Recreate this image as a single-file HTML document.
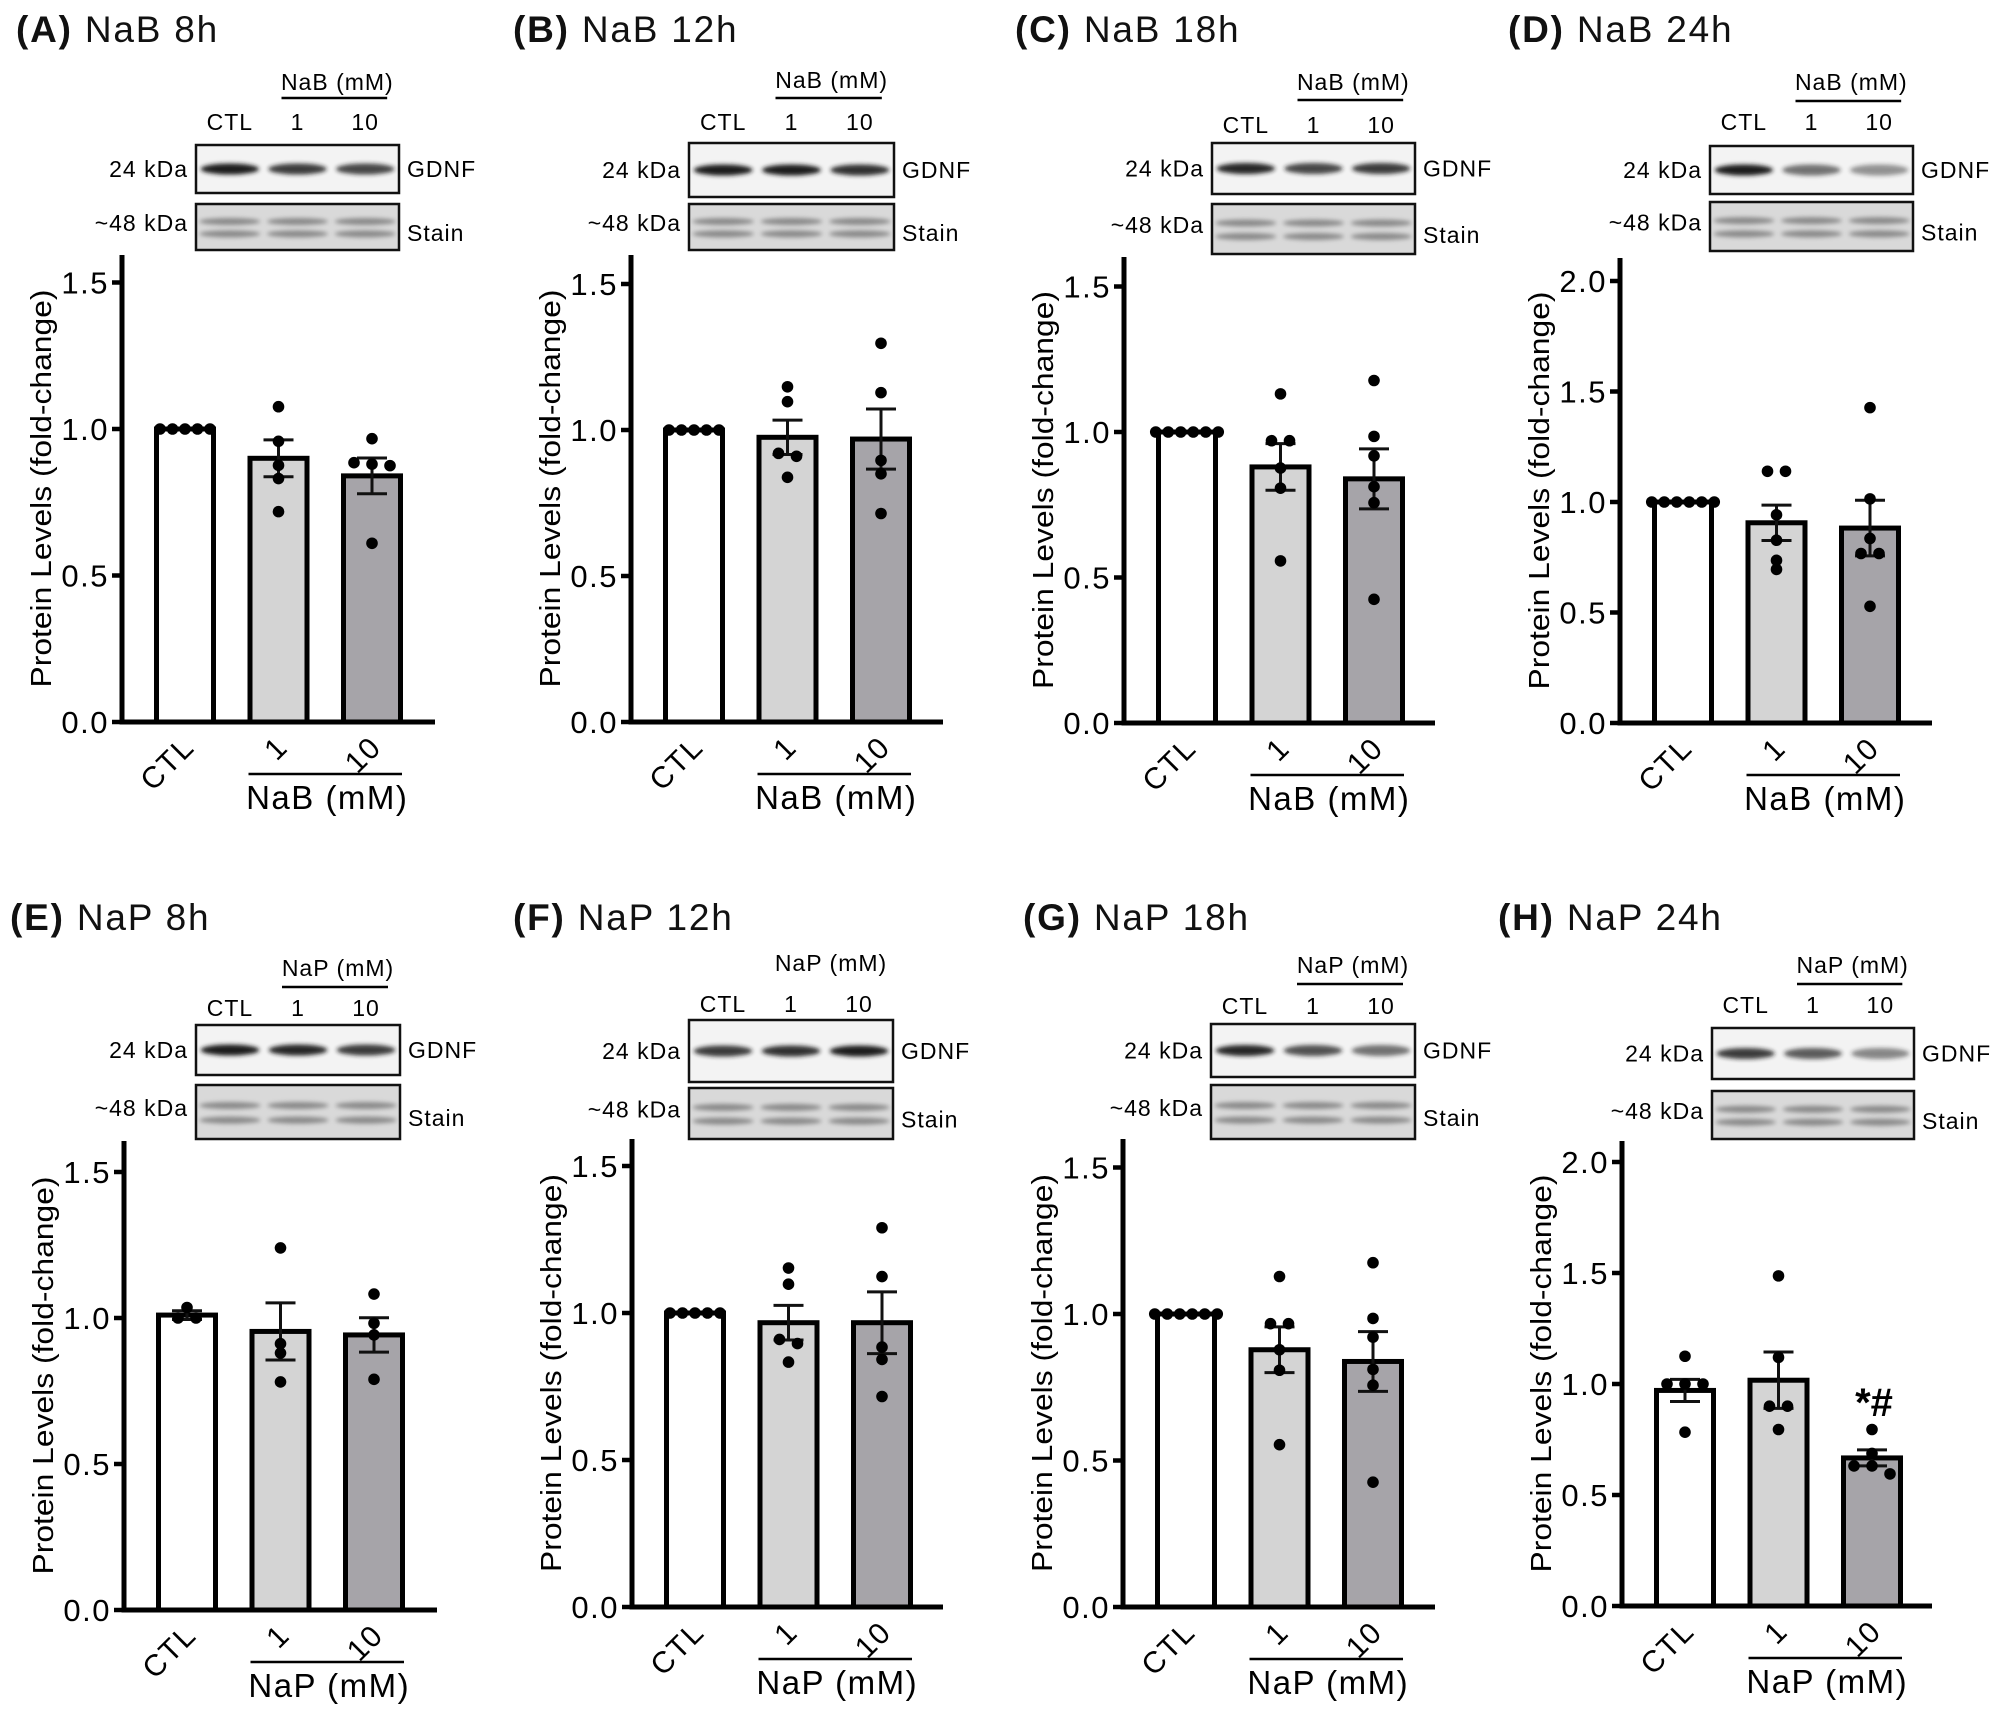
<!DOCTYPE html>
<html><head><meta charset="utf-8"><title>GDNF protein levels</title>
<style>html,body{margin:0;padding:0;background:#fff;}svg{display:block;font-family:"Liberation Sans",Arial,sans-serif;}</style>
</head><body>
<svg id="fig" xmlns="http://www.w3.org/2000/svg" width="2000" height="1714" viewBox="0 0 2000 1714">
<defs>
<filter id="blur2" x="-20%" y="-100%" width="140%" height="300%"><feGaussianBlur stdDeviation="2.2"/></filter>
</defs>
</svg>
<script>
// ---- data ----
const groups = ["CTL", "1", "10"];
const A_means = [1.0, 0.90, 0.84];   const A_sem = [0, 0.063, 0.061];
const A_ctl = [1,1,1,1,1];            const A_d1 = [1.076,0.958,0.876,0.831,0.718]; const A_d10 = [0.967,0.885,0.875,0.88,0.61];
const B_means = [1.0, 0.975, 0.969]; const B_sem = [0, 0.059, 0.103];
const B_ctl = [1,1,1,1,1];            const B_d1 = [1.148,1.097,0.92,0.91,0.838];   const B_d10 = [1.297,1.128,0.896,0.85,0.714];
const C_means = [1.0, 0.88, 0.839];  const C_sem = [0, 0.08, 0.103];
const C_ctl = [1,1,1,1,1,1];          const C_d1 = [1.131,0.97,0.97,0.876,0.807,0.557]; const C_d10 = [1.177,0.985,0.918,0.812,0.757,0.425];
const D_means = [1.0, 0.906, 0.882]; const D_sem = [0, 0.08, 0.126];
const D_ctl = [1,1,1,1,1,1];          const D_d1 = [1.139,1.139,0.942,0.827,0.736,0.695]; const D_d10 = [1.427,1.014,0.835,0.767,0.767,0.528];
const E_means = [1.01, 0.954, 0.942]; const E_sem = [0.015, 0.098, 0.059];
const E_ctl = [1.036,1.0,1.0];        const E_d1 = [1.24,0.912,0.88,0.781];        const E_d10 = [1.082,0.982,0.942,0.79];
const F_means = [1.0, 0.967, 0.967]; const F_sem = [0, 0.059, 0.105];
const F_ctl = [1,1,1,1,1];            const F_d1 = [1.153,1.098,0.91,0.896,0.833];  const F_d10 = [1.29,1.124,0.884,0.842,0.716];
const G_means = [1.0, 0.878, 0.838]; const G_sem = [0, 0.078, 0.102];
const G_ctl = [1,1,1,1,1,1];          const G_d1 = [1.128,0.967,0.967,0.878,0.808,0.554]; const G_d10 = [1.175,0.985,0.921,0.811,0.757,0.426];
const H_means = [0.971, 1.017, 0.667]; const H_sem = [0.05, 0.127, 0.036];
const H_ctl = [1.125,1.0,1.0,1.0,0.783]; const H_d1 = [1.487,1.12,0.9,0.9,0.795];  const H_d10 = [0.795,0.687,0.631,0.631,0.595];
const ticksLow = [0, 0.5, 1.0, 1.5];
const tickLabelsLow = ["0.0","0.5","1.0","1.5"];
const ticksHigh = [0, 0.5, 1.0, 1.5, 2.0];
const tickLabelsHigh = ["0.0","0.5","1.0","1.5","2.0"];

// ---- layout (pixel geometry only) ----
const panels = [
 {id:"a",letter:"(A)",title:"NaB 8h",drug:"NaB",tx:16,ty:42,ax:122,xEnd:435,y0:722,y1:429,top:255,blot:[196,399],g:[145,193],s:[204,250],ly:[90,98,130],line:true,means:A_means,sem:A_sem,dots:[A_ctl,A_d1,A_d10],ticks:ticksLow,tl:tickLabelsLow,band:[1,0.85,0.8]},
 {id:"b",letter:"(B)",title:"NaB 12h",drug:"NaB",tx:513,ty:42,ax:631,xEnd:943,y0:722,y1:430,top:255,blot:[689,894],g:[143,197],s:[204,250],ly:[88,98,130],line:true,means:B_means,sem:B_sem,dots:[B_ctl,B_d1,B_d10],ticks:ticksLow,tl:tickLabelsLow,band:[1,1,0.9]},
 {id:"c",letter:"(C)",title:"NaB 18h",drug:"NaB",tx:1015,ty:42,ax:1124,xEnd:1435,y0:723,y1:432,top:257,blot:[1212,1415],g:[143,194],s:[204,254],ly:[90,100,133],line:true,means:C_means,sem:C_sem,dots:[C_ctl,C_d1,C_d10],ticks:ticksLow,tl:tickLabelsLow,band:[0.95,0.8,0.85]},
 {id:"d",letter:"(D)",title:"NaB 24h",drug:"NaB",tx:1508,ty:42,ax:1620,xEnd:1932,y0:723,y1:502,top:258,blot:[1710,1913],g:[146,194],s:[202,251],ly:[90,101,130],line:true,means:D_means,sem:D_sem,dots:[D_ctl,D_d1,D_d10],ticks:ticksHigh,tl:tickLabelsHigh,band:[1,0.6,0.45]},
 {id:"e",letter:"(E)",title:"NaP 8h",drug:"NaP",tx:10,ty:930,ax:124,xEnd:437,y0:1610,y1:1318,top:1141,blot:[196,400],g:[1025,1075],s:[1085,1139],ly:[976,987,1016],line:true,means:E_means,sem:E_sem,dots:[E_ctl,E_d1,E_d10],ticks:ticksLow,tl:tickLabelsLow,band:[1,0.95,0.85]},
 {id:"f",letter:"(F)",title:"NaP 12h",drug:"NaP",tx:513,ty:930,ax:632,xEnd:943,y0:1607,y1:1313,top:1139,blot:[689,893],g:[1020,1082],s:[1088,1139],ly:[971,0,1012],line:false,means:F_means,sem:F_sem,dots:[F_ctl,F_d1,F_d10],ticks:ticksLow,tl:tickLabelsLow,band:[0.85,0.9,1]},
 {id:"g",letter:"(G)",title:"NaP 18h",drug:"NaP",tx:1023,ty:930,ax:1123,xEnd:1435,y0:1607,y1:1314,top:1139,blot:[1211,1415],g:[1024,1077],s:[1085,1139],ly:[973,984,1014],line:true,means:G_means,sem:G_sem,dots:[G_ctl,G_d1,G_d10],ticks:ticksLow,tl:tickLabelsLow,band:[0.95,0.75,0.6]},
 {id:"h",letter:"(H)",title:"NaP 24h",drug:"NaP",tx:1498,ty:930,ax:1622,xEnd:1932,y0:1606,y1:1384,top:1141,blot:[1712,1914],g:[1028,1079],s:[1091,1139],ly:[973,984,1013],line:true,means:H_means,sem:H_sem,dots:[H_ctl,H_d1,H_d10],ticks:ticksHigh,tl:tickLabelsHigh,band:[0.85,0.7,0.5],star:2}
];
const fills = ["#ffffff","#d4d4d4","#a6a4a9"];
const NS = "http://www.w3.org/2000/svg";
const svg = document.getElementById("fig");
function mk(tag, attrs, parent, text){
  const e = document.createElementNS(NS, tag);
  for (const k in attrs) e.setAttribute(k, attrs[k]);
  if (text !== undefined) e.textContent = text;
  parent.appendChild(e); return e;
}

panels.forEach(p => {
  const yScale = v => p.y0 - v * (p.y0 - p.y1);
  const xCenter = i => p.ax + 63 + i * 93.5;
  const grp = mk("g", {}, svg);
  
  

  // title
  const t = mk("text", {x:p.tx, y:p.ty, "font-size":37, "letter-spacing":1.8, fill:"#111"}, grp);
  
  
  mk("tspan", {"font-weight":"bold"}, t, p.letter);
  mk("tspan", {}, t, " " + p.title);

  // blot
  const bx0 = p.blot[0], bx1 = p.blot[1], bw = bx1 - bx0;
  const blot = mk("g", {}, grp);
  
  
  const laneC = k => bx0 + bw * (k + 0.5) / 3;
  const gl = mk("text", {x:(laneC(1)+laneC(2))/2 + 6, y:p.ly[0], "font-size":23, "text-anchor":"middle", "letter-spacing":1}, blot, p.drug + " (mM)");
  
  
  if (p.line) {
    const l = mk("line", {x1:laneC(1)-16, x2:laneC(2)+22, y1:p.ly[1], y2:p.ly[1], stroke:"#000", "stroke-width":2.5}, blot);
    
    
  }
  groups.forEach((g, k) => {
    const lt = mk("text", {x:laneC(k), y:p.ly[2], "font-size":23, "text-anchor":"middle", "letter-spacing":1}, blot, g);
    
    
  });
  const gr = mk("rect", {x:bx0, y:p.g[0], width:bw, height:p.g[1]-p.g[0], fill:"#f3f3f3", stroke:"#111", "stroke-width":2.5}, blot);
  
  
  const gm = (p.g[0]+p.g[1])/2;
  p.band.forEach((b, k) => {
    const e = mk("ellipse", {cx:laneC(k), cy:gm, rx:bw/6*0.86, ry:5.5, fill:"#1a1a1a", opacity:b, filter:"url(#blur2)"}, blot);
    
    
  });
  const sr = mk("rect", {x:bx0, y:p.s[0], width:bw, height:p.s[1]-p.s[0], fill:"#d9d9d9", stroke:"#111", "stroke-width":2.5}, blot);
  
  
  const sh = p.s[1]-p.s[0];
  [0.38, 0.65].forEach(fr => {
    for (let k = 0; k < 3; k++) {
      const e = mk("ellipse", {cx:laneC(k), cy:p.s[0]+sh*fr, rx:bw/6*0.9, ry:3.5, fill:"#777", opacity:0.8, filter:"url(#blur2)"}, blot);
      
      
    }
  });
  const k1 = mk("text", {x:bx0-8, y:gm+8, "font-size":23, "text-anchor":"end", "letter-spacing":1}, blot, "24 kDa");
  
  
  const k2 = mk("text", {x:bx0-8, y:(p.s[0]+p.s[1])/2+4, "font-size":23, "text-anchor":"end", "letter-spacing":1}, blot, "~48 kDa");
  
  
  const k3 = mk("text", {x:bx1+8, y:gm+8, "font-size":23, "letter-spacing":1}, blot, "GDNF");
  
  
  const k4 = mk("text", {x:bx1+8, y:(p.s[0]+p.s[1])/2+14, "font-size":23, "letter-spacing":1}, blot, "Stain");
  
  

  // bars
  p.means.forEach((m, i) => {
    const cx = xCenter(i);
    const r = mk("rect", {x:cx-28.5, y:yScale(m), width:57, height:p.y0-yScale(m), fill:fills[i], stroke:"#000", "stroke-width":5}, grp);
    
    
  });
  // error bars
  p.means.forEach((m, i) => {
    if (p.sem[i] <= 0) return;
    const cx = xCenter(i), yt = yScale(m + p.sem[i]), yb = yScale(m - p.sem[i]);
    const eg = mk("g", {stroke:"#111", "stroke-width":3}, grp);
    
    
    mk("line", {x1:cx, x2:cx, y1:yt, y2:yb}, eg);
    mk("line", {x1:cx-15, x2:cx+15, y1:yt, y2:yt}, eg);
    mk("line", {x1:cx-15, x2:cx+15, y1:yb, y2:yb}, eg);
  });
  // dots (beeswarm for overlapping values)
  p.dots.forEach((arr, i) => {
    const cx = xCenter(i);
    const sorted = arr.slice().sort((a,b) => b-a);
    let clusters = [];
    sorted.forEach(v => {
      const last = clusters[clusters.length-1];
      if (last && Math.abs(yScale(v) - yScale(last[0])) < 9) last.push(v); else clusters.push([v]);
    });
    clusters.forEach(c => {
      const sp = c.length > 3 ? 12.5 : 18;
      c.forEach((v, j) => {
        const d = mk("circle", {cx:cx + (j - (c.length-1)/2) * sp, cy:yScale(v), r:5.8, fill:"#000"}, grp);
        
        
      });
    });
  });
  if (p.star !== undefined) {
    const st = mk("text", {x:xCenter(p.star)+2, y:yScale(p.means[p.star]+p.sem[p.star])-34, "font-size":40, "font-weight":"bold", "text-anchor":"middle"}, grp, "*#");
    
    
  }

  // axes
  const ya = mk("line", {x1:p.ax, x2:p.ax, y1:p.top, y2:p.y0+2.5, stroke:"#000", "stroke-width":5}, grp);
  
  
  const xa = mk("line", {x1:p.ax-2.5, x2:p.xEnd, y1:p.y0, y2:p.y0, stroke:"#000", "stroke-width":5}, grp);
  
  
  p.ticks.forEach((tv, k) => {
    const ty = yScale(tv);
    const tk = mk("line", {x1:p.ax-10, x2:p.ax, y1:ty, y2:ty, stroke:"#000", "stroke-width":4.5}, grp);
    
    
    const tl = mk("text", {x:p.ax-13, y:ty+11, "font-size":31, "text-anchor":"end", "letter-spacing":1.5}, grp, p.tl[k]);
    
    
  });
  const yt = mk("text", {x:0, y:0, "font-size":29, "text-anchor":"middle", textLength:398, lengthAdjust:"spacingAndGlyphs", transform:"translate(" + (p.ax-71) + "," + ((p.top+p.y0)/2) + ") rotate(-90)"}, grp, "Protein Levels (fold-change)");
  
  
  groups.forEach((g, i) => {
    const xl = mk("text", {x:0, y:0, "font-size":30, "text-anchor":"end", "letter-spacing":1.5, transform:"translate(" + (xCenter(i)+11) + "," + (p.y0+27) + ") rotate(-45)"}, grp, g);
    
    
  });
  const gx0 = xCenter(1) - 30, gx1 = xCenter(2) + 30;
  const gline = mk("line", {x1:gx0, x2:gx1, y1:p.y0+52, y2:p.y0+52, stroke:"#000", "stroke-width":2.5}, grp);
  
  
  const glab = mk("text", {x:(gx0+gx1)/2+2, y:p.y0+87, "font-size":33, "text-anchor":"middle", "letter-spacing":1.5}, grp, p.drug + " (mM)");
  
  
});
</script>
</body></html>
